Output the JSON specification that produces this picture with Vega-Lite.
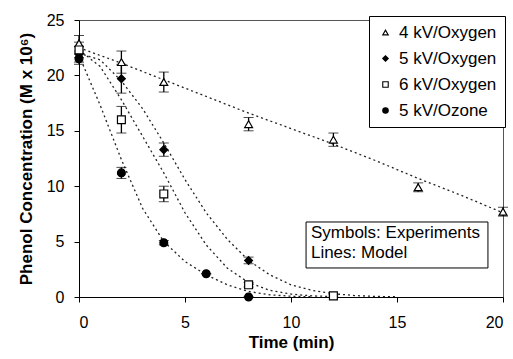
{
  "$schema": "https://vega.github.io/schema/vega-lite/v6.json",
  "width": 424,
  "height": 277,
  "autosize": "none",
  "padding": {"left": 79, "top": 20, "right": 10, "bottom": 62},
  "background": "white",
  "config": {
    "font": "Liberation Sans",
    "view": {"stroke": "#555", "strokeWidth": 1},
    "axis": {"labelFont": "Liberation Sans", "titleFont": "Liberation Sans", "labelColor": "black", "titleColor": "black", "domainColor": "black", "tickColor": "black", "grid": false, "labelFontSize": 16, "titleFontSize": 17, "titleFontWeight": "bold"}
  },
  "datasets": {
    "obs": [
      {"s": "4 kV/Oxygen", "t": 0, "c": 22.9, "lo": 22.2, "hi": 23.6},
      {"s": "4 kV/Oxygen", "t": 2, "c": 21.2, "lo": 20.2, "hi": 22.2},
      {"s": "4 kV/Oxygen", "t": 4, "c": 19.4, "lo": 18.5, "hi": 20.3},
      {"s": "4 kV/Oxygen", "t": 8, "c": 15.6, "lo": 15.0, "hi": 16.2},
      {"s": "4 kV/Oxygen", "t": 12, "c": 14.2, "lo": 13.6, "hi": 14.8},
      {"s": "4 kV/Oxygen", "t": 16, "c": 9.9, "lo": 9.5, "hi": 10.3},
      {"s": "4 kV/Oxygen", "t": 20, "c": 7.7, "lo": 7.3, "hi": 8.1},
      {"s": "5 kV/Oxygen", "t": 0, "c": 21.9, "lo": 21.2, "hi": 22.6},
      {"s": "5 kV/Oxygen", "t": 2, "c": 19.7, "lo": 18.4, "hi": 21.0},
      {"s": "5 kV/Oxygen", "t": 4, "c": 13.3, "lo": 12.7, "hi": 13.9},
      {"s": "5 kV/Oxygen", "t": 8, "c": 3.3, "lo": 3.0, "hi": 3.6},
      {"s": "6 kV/Oxygen", "t": 0, "c": 22.3, "lo": 21.6, "hi": 23.0},
      {"s": "6 kV/Oxygen", "t": 2, "c": 16.0, "lo": 14.8, "hi": 17.2},
      {"s": "6 kV/Oxygen", "t": 4, "c": 9.3, "lo": 8.6, "hi": 10.0},
      {"s": "6 kV/Oxygen", "t": 8, "c": 1.1, "lo": 0.9, "hi": 1.3},
      {"s": "6 kV/Oxygen", "t": 12, "c": 0.1, "lo": 0.0, "hi": 0.2},
      {"s": "5 kV/Ozone", "t": 0, "c": 21.5, "lo": 21.0, "hi": 22.0},
      {"s": "5 kV/Ozone", "t": 2, "c": 11.2, "lo": 10.7, "hi": 11.7},
      {"s": "5 kV/Ozone", "t": 4, "c": 4.9, "lo": 4.7, "hi": 5.1},
      {"s": "5 kV/Ozone", "t": 6, "c": 2.1, "lo": 2.1, "hi": 2.1},
      {"s": "5 kV/Ozone", "t": 8, "c": 0.0, "lo": 0.0, "hi": 0.0}
    ],
    "model": [
      {"s": "4kV", "t": 0, "m": 22.5}, {"s": "4kV", "t": 2, "m": 21.1}, {"s": "4kV", "t": 4, "m": 19.6},
      {"s": "4kV", "t": 6, "m": 18.1}, {"s": "4kV", "t": 8, "m": 16.6}, {"s": "4kV", "t": 10, "m": 15.2},
      {"s": "4kV", "t": 12, "m": 13.8}, {"s": "4kV", "t": 14, "m": 12.3}, {"s": "4kV", "t": 16, "m": 10.7},
      {"s": "4kV", "t": 18, "m": 9.2}, {"s": "4kV", "t": 20, "m": 7.6},
      {"s": "5kV", "t": 0, "m": 22.0}, {"s": "5kV", "t": 1, "m": 21.4}, {"s": "5kV", "t": 2, "m": 19.5},
      {"s": "5kV", "t": 3, "m": 17.0}, {"s": "5kV", "t": 4, "m": 13.9}, {"s": "5kV", "t": 5, "m": 10.6},
      {"s": "5kV", "t": 6, "m": 7.6}, {"s": "5kV", "t": 7, "m": 5.2}, {"s": "5kV", "t": 8, "m": 3.3},
      {"s": "5kV", "t": 9, "m": 2.0}, {"s": "5kV", "t": 10, "m": 1.1}, {"s": "5kV", "t": 11, "m": 0.6},
      {"s": "5kV", "t": 12, "m": 0.3}, {"s": "5kV", "t": 13, "m": 0.13}, {"s": "5kV", "t": 14, "m": 0.05},
      {"s": "5kV", "t": 15, "m": 0.02},
      {"s": "6kV", "t": 0, "m": 22.3}, {"s": "6kV", "t": 1, "m": 20.8}, {"s": "6kV", "t": 2, "m": 17.8},
      {"s": "6kV", "t": 3, "m": 14.5}, {"s": "6kV", "t": 4, "m": 11.2}, {"s": "6kV", "t": 5, "m": 7.6},
      {"s": "6kV", "t": 6, "m": 4.7}, {"s": "6kV", "t": 7, "m": 2.6}, {"s": "6kV", "t": 8, "m": 1.3},
      {"s": "6kV", "t": 9, "m": 0.6}, {"s": "6kV", "t": 10, "m": 0.26}, {"s": "6kV", "t": 11, "m": 0.1},
      {"s": "6kV", "t": 12, "m": 0.04},
      {"s": "oz", "t": 0, "m": 21.8}, {"s": "oz", "t": 1, "m": 17.3}, {"s": "oz", "t": 2, "m": 12.4},
      {"s": "oz", "t": 3, "m": 8.0}, {"s": "oz", "t": 4, "m": 5.0}, {"s": "oz", "t": 5, "m": 3.2},
      {"s": "oz", "t": 6, "m": 2.0}, {"s": "oz", "t": 7, "m": 1.1}, {"s": "oz", "t": 8, "m": 0.5},
      {"s": "oz", "t": 9, "m": 0.2}, {"s": "oz", "t": 10, "m": 0.07}, {"s": "oz", "t": 11, "m": 0.02}
    ],
    "note": [
      {"x1": 10.71, "x2": 19.29, "y1": 2.62, "y2": 6.77}
    ],
    "notetext": [
      {"x": 10.94, "y": 5.78, "label": "Symbols: Experiments"},
      {"x": 10.94, "y": 3.97, "label": "Lines: Model"}
    ]
  },
  "layer": [
    {
      "data": {"name": "model"},
      "mark": {"type": "line", "color": "#222", "strokeWidth": 1.3, "strokeDash": [2, 3], "clip": true},
      "encoding": {
        "x": {"field": "t", "type": "quantitative", "scale": {"domain": [0, 20], "nice": false},
          "axis": {"title": "Time (min)", "values": [0, 5, 10, 15, 20], "tickSize": 5, "labelPadding": 12, "titlePadding": 4}},
        "y": {"field": "m", "type": "quantitative", "scale": {"domain": [0, 25], "nice": false},
          "axis": {"title": "Phenol Concentration (M x 10⁶)", "values": [0, 5, 10, 15, 20, 25], "tickSize": 5, "labelPadding": 10, "titlePadding": 11}},
        "detail": {"field": "s"}
      }
    },
    {
      "data": {"name": "obs"},
      "mark": {"type": "errorbar", "ticks": {"size": 10, "color": "black"}, "rule": {"color": "black", "strokeWidth": 1.3}},
      "encoding": {
        "x": {"field": "t", "type": "quantitative", "title": "Time (min)"},
        "y": {"field": "lo", "type": "quantitative", "title": "Phenol Concentration (M x 10⁶)"},
        "y2": {"field": "hi"}
      }
    },
    {
      "data": {"name": "obs"},
      "mark": {"type": "point", "filled": true, "strokeWidth": 1.2, "size": 62, "opacity": 1},
      "encoding": {
        "x": {"field": "t", "type": "quantitative", "title": "Time (min)"},
        "y": {"field": "c", "type": "quantitative", "title": "Phenol Concentration (M x 10⁶)"},
        "shape": {"field": "s", "type": "nominal",
          "scale": {"domain": ["4 kV/Oxygen", "5 kV/Oxygen", "6 kV/Oxygen", "5 kV/Ozone"], "range": ["triangle-up", "diamond", "square", "circle"]},
          "legend": {"title": null, "orient": "none", "legendX": 290, "legendY": -4, "strokeColor": "black", "fillColor": "white", "padding": 8, "rowPadding": 8, "labelFontSize": 17, "labelFont": "Liberation Sans", "labelColor": "black", "symbolSize": 30, "symbolStrokeWidth": 1.1, "labelOffset": 5}},
        "fill": {"field": "s", "type": "nominal",
          "scale": {"domain": ["4 kV/Oxygen", "5 kV/Oxygen", "6 kV/Oxygen", "5 kV/Ozone"], "range": ["white", "black", "white", "black"]},
          "legend": {"title": null, "orient": "none", "legendX": 290, "legendY": -4, "strokeColor": "black", "fillColor": "white", "padding": 8, "rowPadding": 8, "labelFontSize": 17, "labelFont": "Liberation Sans", "labelColor": "black", "symbolSize": 30, "symbolStrokeWidth": 1.1, "labelOffset": 5}},
        "stroke": {"field": "s", "type": "nominal",
          "scale": {"domain": ["4 kV/Oxygen", "5 kV/Oxygen", "6 kV/Oxygen", "5 kV/Ozone"], "range": ["black", "black", "black", "black"]},
          "legend": {"title": null, "orient": "none", "legendX": 290, "legendY": -4, "strokeColor": "black", "fillColor": "white", "padding": 8, "rowPadding": 8, "labelFontSize": 17, "labelFont": "Liberation Sans", "labelColor": "black", "symbolSize": 30, "symbolStrokeWidth": 1.1, "labelOffset": 5}}
      }
    },
    {
      "data": {"name": "note"},
      "mark": {"type": "rect", "fill": "white", "stroke": "black", "strokeWidth": 1},
      "encoding": {
        "x": {"field": "x1", "type": "quantitative"},
        "x2": {"field": "x2"},
        "y": {"field": "y1", "type": "quantitative"},
        "y2": {"field": "y2"}
      }
    },
    {
      "data": {"name": "notetext"},
      "mark": {"type": "text", "align": "left", "baseline": "middle", "fontSize": 17, "font": "Liberation Sans", "color": "black"},
      "encoding": {
        "x": {"field": "x", "type": "quantitative"},
        "y": {"field": "y", "type": "quantitative"},
        "text": {"field": "label"}
      }
    }
  ]
}
